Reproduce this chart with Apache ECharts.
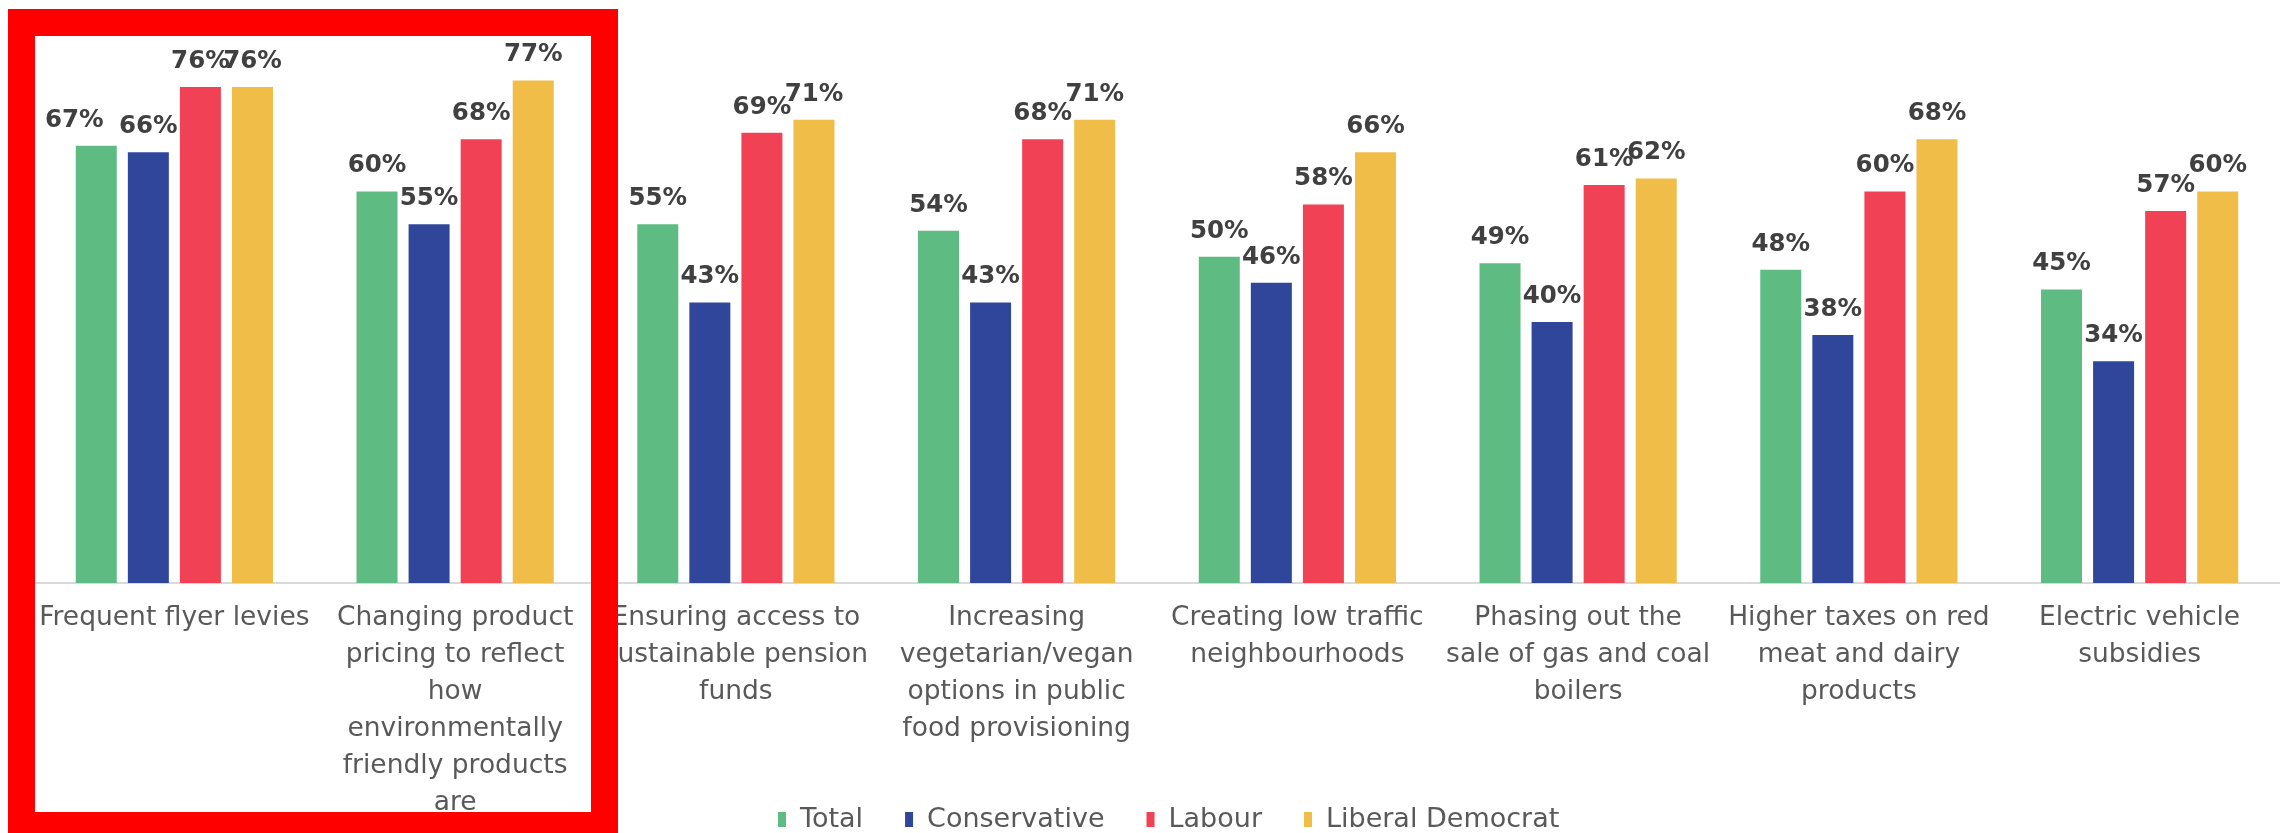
<!DOCTYPE html>
<html>
<head>
<meta charset="utf-8">
<script src="https://cdn.jsdelivr.net/npm/echarts@6/dist/echarts.min.js"></script>
<style>
  html, body { margin: 0; padding: 0; background: #ffffff; }
  #chart { width: 2280px; height: 833px; }
</style>
</head>
<body>
<div id="chart"></div>
<script>
const categories = [
  "Frequent flyer levies",
  "Changing product\npricing to reflect\nhow\nenvironmentally\nfriendly products\nare",
  "Ensuring access to\nsustainable pension\nfunds",
  "Increasing\nvegetarian/vegan\noptions in public\nfood provisioning",
  "Creating low traffic\nneighbourhoods",
  "Phasing out the\nsale of gas and coal\nboilers",
  "Higher taxes on red\nmeat and dairy\nproducts",
  "Electric vehicle\nsubsidies"
];
const seriesNames = ["Total", "Conservative", "Labour", "Liberal Democrat"];
const totalValues        = [67, 60, 55, 54, 50, 49, 48, 45];
const conservativeValues = [66, 55, 43, 43, 46, 40, 38, 34];
const labourValues       = [76, 68, 69, 68, 58, 61, 60, 57];
const libDemValues       = [76, 77, 71, 71, 66, 62, 68, 60];
const seriesColors = ["#5EBC83", "#30469A", "#F14255", "#F0BD48"];

const allValues = [totalValues, conservativeValues, labourValues, libDemValues];
const FONT = '"DejaVu Sans", "Liberation Sans", Arial, sans-serif';

const chart = echarts.init(document.getElementById('chart'), null, { renderer: 'canvas' });

const series = seriesNames.map((name, i) => ({
  name: name,
  type: 'bar',
  data: allValues[i].map((v, j) => {
    // the first "Total" label was nudged left in the original chart
    if (i === 0 && j === 0) {
      return { value: v, label: { offset: [-22, 0] } };
    }
    return v;
  }),
  barWidth: 41,
  barGap: '27%',
  itemStyle: { color: seriesColors[i] },
  label: {
    show: true,
    position: 'top',
    distance: 13,
    formatter: '{c}%',
    fontFamily: FONT,
    fontWeight: 'bold',
    fontSize: 24.5,
    color: '#404040'
  }
}));

chart.setOption({
  animation: false,
  backgroundColor: '#ffffff',
  grid: { left: 34, top: 61, width: 2261, bottom: 250, containLabel: false },
  xAxis: {
    type: 'category',
    data: categories,
    axisLine: { show: true, lineStyle: { color: '#D9D9D9', width: 2 } },
    axisTick: { show: false },
    axisLabel: {
      interval: 0,
      margin: 17,
      color: '#595959',
      fontFamily: FONT,
      fontSize: 26.5,
      lineHeight: 37,
      align: 'center'
    }
  },
  yAxis: {
    type: 'value',
    min: 0,
    max: 80,
    show: false,
    splitLine: { show: false }
  },
  legend: {
    data: seriesNames,
    left: 773,
    top: 801,
    icon: 'rect',
    itemWidth: 8,
    itemHeight: 15,
    itemGap: 42,
    textStyle: {
      color: '#595959',
      fontFamily: FONT,
      fontSize: 27,
      padding: [0, 0, 0, 9]
    }
  },
  series: series,
  graphic: [{
    type: 'rect',
    z: 100,
    silent: true,
    shape: { x: 21.5, y: 22.5, width: 583, height: 803 },
    style: { fill: 'none', stroke: '#FF0000', lineWidth: 27 }
  }]
});
</script>
</body>
</html>
